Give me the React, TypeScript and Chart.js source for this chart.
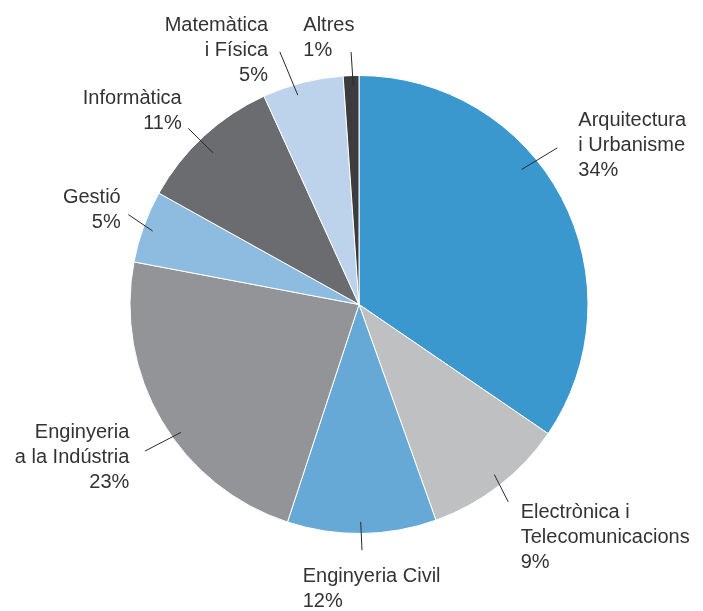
import React, { useEffect, useRef } from "react";
import { Chart, registerables } from "chart.js";

Chart.register(...registerables);

// Categories (clockwise from top)
const categories = [
  "Arquitectura\ni Urbanisme",
  "Electrònica i\nTelecomunicacions",
  "Enginyeria Civil",
  "Enginyeria\na la Indústria",
  "Gestió",
  "Informàtica",
  "Matemàtica\ni Física",
  "Altres",
];

// Slice sizes as drawn (percent)
const values = [34.5, 10.0, 10.5, 22.9, 5.1, 10.1, 5.7, 1.1];

// Percent labels as printed
const percentLabels = ["34%", "9%", "12%", "23%", "5%", "11%", "5%", "1%"];

const colors = [
  "#3a98cf",
  "#bfc0c2",
  "#67a9d6",
  "#939498",
  "#8ebbe0",
  "#6b6c70",
  "#bdd3ec",
  "#3c3c3e",
];

// Annotation layout: leader line (polar, deg from top clockwise, px from centre), text anchor offset from centre
const labelLayout = [
  { a1: 50.3, d1: 211.4, a2: 51.7, d2: 252.7, align: "left", tx: 219.3, ty: -178.6 },
  { a1: 141.5, d1: 217.3, a2: 142.9, d2: 247.5, align: "left", tx: 161.7, ty: 213.5 },
  { a1: 179.55, d1: 217.4, a2: 179.3, d2: 245.7, align: "left", tx: -56.3, ty: 277.2 },
  { a1: 234.3, d1: 219.2, a2: 235.6, d2: 259.5, align: "right", tx: -229.7, ty: 133 },
  { a1: 289.6, d1: 219, a2: 291.3, d2: 247.6, align: "right", tx: -238.3, ty: -102 },
  { a1: 316.1, d1: 210.3, a2: 315.9, d2: 245.2, align: "right", tx: -177.3, ty: -201 },
  { a1: 343.7, d1: 218.1, a2: 342.6, d2: 264.7, align: "right", tx: -91, ty: -273.8 },
  { a1: 358.5, d1: 218.9, a2: 358.2, d2: 252.7, align: "left", tx: -55.7, ty: -273.3 },
];

const labelPlugin = {
  id: "pieLabels",
  afterDraw(chart: any) {
    const meta = chart.getDatasetMeta(0);
    const arc = meta.data[0];
    if (!arc) return;
    const cx = arc.x;
    const cy = arc.y;
    const R = arc.outerRadius;
    const scale = R / 229;
    const ctx = chart.ctx;
    ctx.save();
    const pt = (a: number, d: number) => {
      const rad = (a * Math.PI) / 180;
      return [cx + Math.sin(rad) * d * scale, cy - Math.cos(rad) * d * scale];
    };
    ctx.strokeStyle = "#2a2a2a";
    ctx.lineWidth = 1;
    ctx.fillStyle = "#333333";
    ctx.font = '20px "Liberation Sans", Arial, sans-serif';
    ctx.textBaseline = "alphabetic";
    labelLayout.forEach((l, i) => {
      const [x1, y1] = pt(l.a1, l.d1);
      const [x2, y2] = pt(l.a2, l.d2);
      ctx.beginPath();
      ctx.moveTo(x1, y1);
      ctx.lineTo(x2, y2);
      ctx.stroke();
      const lines = categories[i].split("\n").concat([percentLabels[i]]);
      ctx.textAlign = l.align as CanvasTextAlign;
      lines.forEach((t, k) => {
        ctx.fillText(t, cx + l.tx * scale, cy + l.ty * scale + k * 25);
      });
    });
    ctx.restore();
  },
};

export default function App() {
  const ref = useRef<HTMLCanvasElement | null>(null);
  useEffect(() => {
    if (!ref.current) return;
    const chart = new Chart(ref.current, {
      type: "pie",
      data: {
        labels: categories,
        datasets: [
          {
            data: values,
            backgroundColor: colors,
            borderColor: "#ffffff",
            borderWidth: 1,
          },
        ],
      },
      options: {
        responsive: false,
        animation: false,
        devicePixelRatio: 1,
        layout: { padding: { left: 129.5, right: 114.5, top: 75, bottom: 77 } },
        plugins: {
          legend: { display: false },
          tooltip: { enabled: false },
        },
      },
      plugins: [labelPlugin],
    });
    return () => chart.destroy();
  }, []);
  return (
    <div style={{ position: "absolute", left: 0, top: 0, width: 703, height: 611, background: "#fff" }}>
      <canvas ref={ref} width={703} height={611} />
    </div>
  );
}
